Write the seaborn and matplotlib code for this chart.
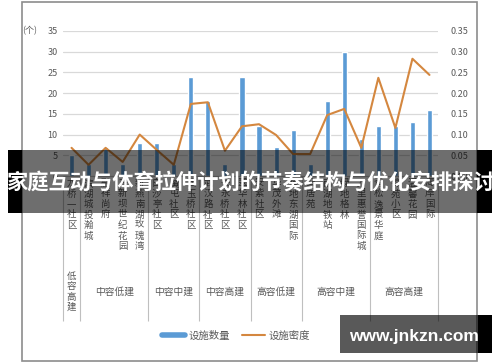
import matplotlib
matplotlib.use('Agg')
import matplotlib.pyplot as plt
import numpy as np
import pandas as pd
import seaborn as sns
from matplotlib.lines import Line2D
from matplotlib.patches import Rectangle

# data
names = ['龙桥一社区', '滨湖城投瀚城', '融祥尚府', '东新坝世纪花园', '新燕南湖玫瑰湾',
         '白沙亭社区', '黄屯社区', '西玉桥社区', '武汉路社区', '长永桥社区', '翠华林社区',
         '安紫社区', '华茂外滩', '绿地东湖国际', '安居苑', '南湖地铁站', '绿地格林',
         '万里惠誉国际城', '青松逸景华庭', '锦苑小区', '温馨花园', '海岸国际']
counts = [5, 3, 7, 3, 8, 8, 3, 24, 18, 3, 24, 12, 7, 11, 3, 18, 30, 9, 12, 12, 13, 16]
density = [0.068, 0.027, 0.068, 0.034, 0.100, 0.063, 0.027, 0.174, 0.178, 0.061, 0.120,
           0.125, 0.099, 0.053, 0.053, 0.147, 0.162, 0.068, 0.237, 0.116, 0.283, 0.244]
groups = ['低容高建', '中容低建', '中容中建', '中容高建', '高容低建', '高容中建', '高容高建']
group_sizes = [1, 4, 3, 3, 3, 4, 4]
left_ticks = [0, 5, 10, 15, 20, 25, 30, 35]
right_ticks = [0.00, 0.05, 0.10, 0.15, 0.20, 0.25, 0.30, 0.35]

title = '家庭互动与体育拉伸计划的节奏结构与优化安排探讨'
legend_labels = ['设施数量', '设施密度']

BLUE = '#5b9bd5'
ORANGE = '#d4873f'
GREY = '#595959'

sns.set_style('white')
plt.rcParams['font.family'] = ['Noto Sans CJK SC', 'DejaVu Sans']

W, H = 500, 362
fig = plt.figure(figsize=(5, 3.62), dpi=100)

def px(x0, y0, x1, y1):
    # pixel box -> figure fraction
    return [x0 / W, 1 - y1 / H, (x1 - x0) / W, (y1 - y0) / H]

ax = fig.add_axes(px(63, 31, 438, 176))
df = pd.DataFrame({'pos': np.arange(len(names)), 'name': names, 'count': counts, 'density': density})

sns.barplot(data=df, x='pos', y='count', color=BLUE, width=0.3, saturation=1, ax=ax)
ax.set_ylim(0, 35)
ax.set_xlim(-0.5, len(names) - 0.5)
ax.set_yticks(left_ticks)
ax.yaxis.grid(True, color='#d9d9d9', lw=0.9)
ax.set_axisbelow(True)
ax.set_xticks([])
ax.set_xlabel('')
ax.set_ylabel('')
ax.tick_params(axis='y', length=0, pad=4, labelsize=6.5, labelcolor=GREY)
for s in ['top', 'left', 'right']:
    ax.spines[s].set_visible(False)
ax.spines['bottom'].set_color('#bfbfbf')

ax2 = ax.twinx()
sns.lineplot(data=df, x='pos', y='density', color=ORANGE, lw=1.5, ax=ax2)
ax2.set_ylim(0, 0.35)
ax2.set_yticks(right_ticks)
ax2.set_yticklabels([f'{t:.2f}' for t in right_ticks])
ax2.tick_params(axis='y', length=0, pad=9, labelsize=6.5, labelcolor=GREY)
ax2.set_ylabel('')
ax2.set_xlabel('')
for s in ax2.spines.values():
    s.set_visible(False)

ax.text(-0.07, 1.0, '(个)', transform=ax.transAxes, ha='right', va='center',
        fontsize=6.5, color=GREY)

# vertical category labels
trans = ax.get_xaxis_transform()
for i, n in enumerate(names):
    ax.text(i, -0.02, '\n'.join(n), transform=trans, ha='center', va='top',
            fontsize=6.8, color=GREY, linespacing=1.2, clip_on=False)

# group separators and group labels
bounds = np.concatenate([[0], np.cumsum(group_sizes)]) - 0.5
ax.vlines(bounds, -1.0, 0, transform=trans, colors='#bfbfbf', lw=0.8, clip_on=False)
for g, a, b in zip(groups, bounds[:-1], bounds[1:]):
    if b - a == 1:
        ax.text((a + b) / 2, -0.66, '\n'.join(g), transform=trans, ha='center', va='top',
                fontsize=6.8, color=GREY, linespacing=1.2)
    else:
        ax.text((a + b) / 2, -0.80, g, transform=trans, ha='center', va='center',
                fontsize=7, color=GREY)

handles = [Line2D([], [], color=BLUE, lw=4), Line2D([], [], color=ORANGE, lw=1.5)]
fig.legend(handles, legend_labels, loc='center', bbox_to_anchor=(236 / W, 1 - 336 / H),
           ncol=2, frameon=False, fontsize=7.5, labelcolor=GREY, handlelength=2.2,
           handletextpad=0.3, columnspacing=1.2)

# frame of the picture
fig.add_artist(Rectangle((22 / W, 1 - 361 / H), 455 / W, 359 / H, transform=fig.transFigure,
                         fill=False, edgecolor='#8c8c8c', lw=1.2))

# title banner
fig.add_artist(Rectangle((22 / W, 1 - 213 / H), 455 / W, 63 / H, transform=fig.transFigure,
                         color='black', alpha=0.57, lw=0))
for x0, x1 in [(8, 22), (477, 492)]:
    fig.add_artist(Rectangle((x0 / W, 1 - 213 / H), (x1 - x0) / W, 63 / H,
                             transform=fig.transFigure, color='black', lw=0))
fig.text(250 / W, 1 - 182 / H, title, ha='center', va='center', color='white',
         fontsize=15.3, fontweight='bold')

# watermark
fig.add_artist(Rectangle((340 / W, 1 - 353 / H), 138 / W, 38 / H, transform=fig.transFigure,
                         color='black', alpha=0.65, lw=0))
fig.add_artist(Rectangle((478 / W, 1 - 353 / H), 14 / W, 38 / H, transform=fig.transFigure,
                         color='black', lw=0))
fig.text(414 / W, 1 - 336 / H, 'www.jnkzn.com', ha='center', va='center', color='white',
         fontsize=12.5, fontweight='bold', family='Liberation Sans')

fig.savefig('out.png', dpi=100)
